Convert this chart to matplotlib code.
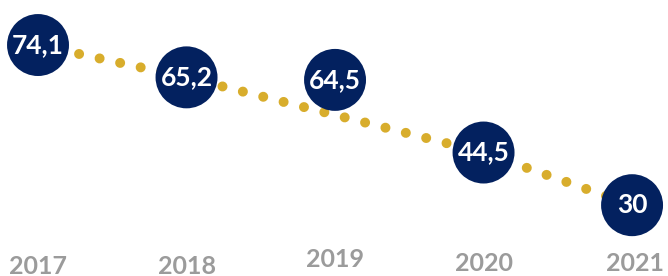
import numpy as np
import matplotlib.pyplot as plt
import matplotlib.transforms as mtransforms

years = [2017, 2018, 2019, 2020, 2021]
values = [74.1, 65.2, 64.5, 44.5, 30]
labels = ["74,1", "65,2", "64,5", "44,5", "30"]
# the dotted line in the original skips 2019
line_years = [2017, 2018, 2020, 2021]
line_values = [74.1, 65.2, 44.5, 30]

navy = "#03215f"
gold = "#d8ad2c"
grey = "#9b9b9b"

plt.rcParams['font.family'] = ['Lato', 'DejaVu Sans']

fig = plt.figure(figsize=(6.68, 2.76), dpi=100)
ax = fig.add_axes([0, 0, 1, 1])
ax.set_xlim(2016.744, 2021.242)
ax.set_ylim(10.5, 86.5)
ax.axis('off')

ax.plot(line_years, line_values, color=gold, lw=7.2,
        linestyle=(0, (0.001, 2.1)), dash_capstyle='round', zorder=1)
ax.scatter(years, values, s=1990, color=navy, edgecolors='none', zorder=2)

for x, y, t in zip(years, values, labels):
    ax.text(x, y, t, color='white', fontsize=19, fontweight='bold',
            ha='center', va='center', zorder=3)

trans = mtransforms.blended_transform_factory(ax.transData, ax.transAxes)
label_y = [0.036, 0.036, 0.06, 0.044, 0.044]
for x, ly in zip(years, label_y):
    ax.text(x + (0.02 if x == 2021 else 0), ly, str(x), color=grey,
            fontsize=18, fontweight='bold', ha='center', va='center',
            transform=trans)

fig.savefig("out.png", dpi=100)
